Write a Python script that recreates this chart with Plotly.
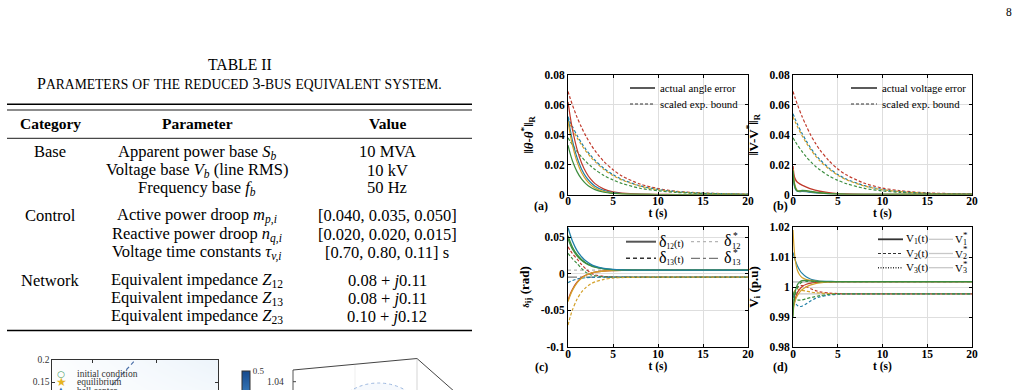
import plotly.graph_objects as go

W, H = 1022, 390
def px(x): return x / W
def py(y): return 1 - y / H

SERIF = "Liberation Serif"
RED, BLUE, GOLD, GREEN = "#c0392b", "#1f7fa6", "#d4a12a", "#3c8d3f"

# ---------------- table data ----------------
table_title = "TABLE II"
table_caption = "Parameters of the reduced 3-bus equivalent system."
table_header = ["Category", "Parameter", "Value"]
table_categories = ["Base", "Control", "Network"]
table_params = [
    ["Apparent power base <i>S</i><sub><i>b</i></sub>",
     "Voltage base <i>V</i><sub><i>b</i></sub> (line RMS)",
     "Frequency base <i>f</i><sub><i>b</i></sub>"],
    ["Active power droop <i>m</i><sub><i>p,i</i></sub>",
     "Reactive power droop <i>n</i><sub><i>q,i</i></sub>",
     "Voltage time constants <i>τ</i><sub><i>v,i</i></sub>"],
    ["Equivalent impedance <i>Z</i><sub>12</sub>",
     "Equivalent impedance <i>Z</i><sub>13</sub>",
     "Equivalent impedance <i>Z</i><sub>23</sub>"],
]
table_values = [
    ["10 MVA", "10 kV", "50 Hz"],
    ["[0.040, 0.035, 0.050]", "[0.020, 0.020, 0.015]", "[0.70, 0.80, 0.11] s"],
    ["0.08 + <i>j</i>0.11", "0.08 + <i>j</i>0.11", "0.10 + <i>j</i>0.12"],
]

# ---------------- panel (a): angle error ----------------
t_a = [0, 0.25, 0.5, 1, 1.5, 2, 2.5, 3, 4, 5, 6, 8, 10, 12, 15, 20]
a_err_red = [0.062, 0.052, 0.0434, 0.0304, 0.0213, 0.0149, 0.0104, 0.0073, 0.0036, 0.0017, 0.0009, 0.0002, 0.0001, 0, 0, 0]
a_err_blue = [0.052, 0.0432, 0.0359, 0.0248, 0.0171, 0.0118, 0.0082, 0.0056, 0.0027, 0.0013, 0.0006, 0.0001, 0, 0, 0, 0]
a_err_gold = [0.049, 0.0401, 0.0329, 0.0220, 0.0147, 0.0099, 0.0066, 0.0044, 0.0020, 0.0009, 0.0004, 0.0001, 0, 0, 0, 0]
a_err_green = [0.033, 0.0272, 0.0224, 0.0153, 0.0104, 0.0071, 0.0048, 0.0033, 0.0015, 0.0007, 0.0003, 0.0001, 0, 0, 0, 0]
a_bnd_red = [0.069, 0.0642, 0.0598, 0.0518, 0.0450, 0.0390, 0.0338, 0.0293, 0.0220, 0.0166, 0.0124, 0.0070, 0.0040, 0.0022, 0.0010, 0.0002]
a_bnd_blue = [0.052, 0.0484, 0.0454, 0.0396, 0.0345, 0.0301, 0.0263, 0.0229, 0.0174, 0.0133, 0.0101, 0.0058, 0.0034, 0.0019, 0.0009, 0.0002]
a_bnd_gold = [0.050, 0.0467, 0.0437, 0.0381, 0.0332, 0.0289, 0.0252, 0.0220, 0.0167, 0.0127, 0.0097, 0.0056, 0.0032, 0.0018, 0.0008, 0.0002]
a_bnd_green = [0.038, 0.0355, 0.0332, 0.0289, 0.0252, 0.0220, 0.0192, 0.0167, 0.0127, 0.0097, 0.0074, 0.0042, 0.0025, 0.0014, 0.0006, 0.0001]

# ---------------- panel (b): voltage error ----------------
t_b_err = [0, 0.1, 0.2, 0.35, 0.5, 0.75, 1, 1.5, 2, 3, 4, 5, 6, 8, 10, 20]
b_err_red = [0.019, 0.0135, 0.011, 0.0092, 0.0082, 0.0071, 0.0063, 0.0050, 0.0038, 0.0022, 0.0012, 0.0006, 0.0003, 0.0001, 0, 0]
b_err_blue = [0.014, 0.008, 0.005, 0.003, 0.0022, 0.0020, 0.0021, 0.0019, 0.0015, 0.0009, 0.0005, 0.0002, 0.0001, 0, 0, 0]
b_err_gold = [0.017, 0.010, 0.0065, 0.0038, 0.0026, 0.0024, 0.0026, 0.0024, 0.0019, 0.0011, 0.0006, 0.0003, 0.0001, 0, 0, 0]
b_err_green = [0.016, 0.009, 0.0055, 0.0032, 0.0022, 0.0023, 0.0027, 0.0025, 0.0020, 0.0012, 0.0006, 0.0003, 0.0001, 0, 0, 0]
t_b_bnd = [0, 0.25, 0.5, 1, 1.5, 2, 2.5, 3, 4, 5, 6, 8, 10, 12, 15, 20]
b_bnd_red = [0.069, 0.0644, 0.0601, 0.0524, 0.0457, 0.0395, 0.0344, 0.0299, 0.0227, 0.0171, 0.0130, 0.0075, 0.0043, 0.0025, 0.0011, 0.0003]
b_bnd_blue = [0.054, 0.0504, 0.0470, 0.0410, 0.0357, 0.0309, 0.0269, 0.0234, 0.0178, 0.0134, 0.0102, 0.0059, 0.0034, 0.0019, 0.0008, 0.0002]
b_bnd_gold = [0.052, 0.0485, 0.0453, 0.0395, 0.0344, 0.0298, 0.0259, 0.0225, 0.0171, 0.0129, 0.0098, 0.0056, 0.0032, 0.0019, 0.0008, 0.0002]
b_bnd_green = [0.038, 0.0355, 0.0331, 0.0289, 0.0251, 0.0218, 0.0189, 0.0165, 0.0125, 0.0095, 0.0072, 0.0041, 0.0024, 0.0014, 0.0006, 0.0001]

# ---------------- panel (c): angle differences ----------------
t_c = [0, 0.25, 0.5, 1, 1.5, 2, 2.5, 3, 4, 5, 6, 8, 10, 15, 20]
c_d12_blue = [0.063, 0.0533, 0.0444, 0.0318, 0.0234, 0.0174, 0.0133, 0.0105, 0.0075, 0.0061, 0.0055, 0.0051, 0.005, 0.005, 0.005]
c_d12_green = [0.052, 0.0435, 0.0364, 0.0264, 0.0197, 0.0149, 0.0117, 0.0094, 0.0069, 0.0058, 0.0053, 0.0051, 0.005, 0.005, 0.005]
c_d12_green2 = [0.048, 0.0401, 0.0337, 0.0246, 0.0184, 0.0141, 0.0111, 0.0090, 0.0067, 0.0057, 0.0053, 0.0051, 0.005, 0.005, 0.005]
c_d12_gold = [-0.038, -0.0293, -0.0223, -0.0123, -0.006, -0.002, 0.0006, 0.0022, 0.0039, 0.0045, 0.0048, 0.005, 0.005, 0.005, 0.005]
c_d12_red = [-0.036, -0.0277, -0.0210, -0.0115, -0.0055, -0.0016, 0.0007, 0.0022, 0.0039, 0.0045, 0.0048, 0.005, 0.005, 0.005, 0.005]
c_d13_red = [0.037, 0.032, 0.0275, 0.0205, 0.0128, 0.0065, 0.0015, -0.0015, -0.0035, -0.0042, -0.0044, -0.0045, -0.0045, -0.0045, -0.0045]
c_d13_green = [0.028, 0.024, 0.0205, 0.0143, 0.0075, 0.002, -0.0012, -0.0028, -0.0040, -0.0044, -0.0045, -0.0045, -0.0045, -0.0045, -0.0045]
c_d13_blue = [-0.012, -0.0105, -0.0092, -0.0072, -0.0060, -0.0053, -0.0049, -0.0047, -0.0045, -0.0045, -0.0045, -0.0045, -0.0045, -0.0045, -0.0045]
c_d13_gold = [-0.070, -0.0586, -0.0491, -0.0348, -0.0250, -0.0185, -0.0140, -0.0110, -0.0075, -0.0059, -0.0051, -0.0047, -0.0045, -0.0045, -0.0045]
delta12_star = 0.005
delta13_star = -0.0045

# ---------------- panel (d): voltages ----------------
t_d = [0, 0.1, 0.25, 0.5, 0.75, 1, 1.5, 2, 2.5, 3, 4, 5, 6, 8, 10, 20]
d_v1_blue = [1.0115, 1.0104, 1.0089, 1.0070, 1.0056, 1.0046, 1.0033, 1.0026, 1.0022, 1.0020, 1.0019, 1.0018, 1.0018, 1.0018, 1.0018, 1.0018]
d_v1_gold_hi = [1.019, 1.014, 1.009, 1.0055, 1.0040, 1.0032, 1.0025, 1.0022, 1.0020, 1.0019, 1.0018, 1.0018, 1.0018, 1.0018, 1.0018, 1.0018]
d_v1_gold_lo = [0.9905, 0.9935, 0.9955, 0.9972, 0.9983, 0.9991, 1.0001, 1.0007, 1.0011, 1.0014, 1.0017, 1.0018, 1.0018, 1.0018, 1.0018, 1.0018]
d_v1_red = [0.9925, 0.9945, 0.9962, 0.9982, 0.9993, 1.0001, 1.0009, 1.0013, 1.0015, 1.0016, 1.0017, 1.0018, 1.0018, 1.0018, 1.0018, 1.0018]
d_v1_green = [0.9900, 0.9955, 0.9985, 1.0008, 1.0017, 1.0021, 1.0022, 1.0020, 1.0019, 1.0018, 1.0018, 1.0018, 1.0018, 1.0018, 1.0018, 1.0018]
d_v2_red = [0.9965, 0.9975, 0.9988, 0.9999, 1.0004, 1.0005, 1.0001, 0.9994, 0.9988, 0.9984, 0.9980, 0.9978, 0.9977, 0.9977, 0.9977, 0.9977]
d_v2_gold = [0.9965, 0.9978, 0.9990, 0.9993, 0.9991, 0.9989, 0.9986, 0.9983, 0.9981, 0.9980, 0.9978, 0.9977, 0.9977, 0.9977, 0.9977, 0.9977]
d_v2_blue = [0.9975, 0.9962, 0.9948, 0.9938, 0.9935, 0.9936, 0.9944, 0.9954, 0.9962, 0.9967, 0.9973, 0.9976, 0.9977, 0.9977, 0.9977, 0.9977]
d_v2_green = [0.9985, 0.9972, 0.9962, 0.9957, 0.9956, 0.9957, 0.9961, 0.9965, 0.9968, 0.9971, 0.9975, 0.9977, 0.9977, 0.9977, 0.9977, 0.9977]
d_v3_green = [0.9935, 0.9952, 0.9975, 0.9998, 1.0010, 1.0016, 1.0019, 1.0019, 1.0018, 1.0018, 1.0018, 1.0018, 1.0018, 1.0018, 1.0018, 1.0018]
V_star = [1.0018, 0.9977, 1.0016]

# ---------------- bottom-left partial plot ----------------
grad_x = [0, 0.5, 1]
grad_y = [0.132, 0.166, 0.2]
grad_z = [[0.004, 0.02, 0.035], [0.006, 0.025, 0.045], [0.008, 0.03, 0.055]]
boundary_x = [0.36, 0.50]
boundary_y = [0.143, 0.2]

fig = go.Figure()

def add(xa, ya, x, y, color, dash="solid", width=1.2):
    fig.add_trace(go.Scatter(x=x, y=y, mode="lines", xaxis=xa, yaxis=ya,
                             line=dict(color=color, dash=dash, width=width, shape="spline", smoothing=0.8),
                             showlegend=False, hoverinfo="skip"))

DASH = "3px,2px"
# (a)
for y, c in [(a_bnd_red, RED), (a_bnd_blue, BLUE), (a_bnd_gold, GOLD), (a_bnd_green, GREEN)]:
    add("x", "y", t_a, y, c, DASH)
for y, c in [(a_err_red, RED), (a_err_blue, BLUE), (a_err_gold, GOLD), (a_err_green, GREEN)]:
    add("x", "y", t_a, y, c)
# (b)
for y, c in [(b_bnd_red, RED), (b_bnd_blue, BLUE), (b_bnd_gold, GOLD), (b_bnd_green, GREEN)]:
    add("x2", "y2", t_b_bnd, y, c, DASH)
for y, c in [(b_err_red, RED), (b_err_blue, BLUE), (b_err_gold, GOLD), (b_err_green, GREEN)]:
    add("x2", "y2", t_b_err, y, c, width=1.4)
# (c)
add("x3", "y3", [0, 20], [delta12_star, delta12_star], "#b5b5b5", "dot", 1.2)
add("x3", "y3", [0, 20], [delta13_star, delta13_star], "#555555", "dashdot", 1.0)
for y, c in [(c_d13_red, RED), (c_d13_green, GREEN), (c_d13_blue, BLUE), (c_d13_gold, GOLD)]:
    add("x3", "y3", t_c, y, c, DASH)
for y, c in [(c_d12_red, RED), (c_d12_gold, GOLD), (c_d12_green2, GREEN), (c_d12_green, GREEN), (c_d12_blue, BLUE)]:
    add("x3", "y3", t_c, y, c, width=1.3)
# (d)
for v in V_star:
    add("x4", "y4", [0, 20], [v, v], "#c8c8c8", "solid", 1.2)
for y, c in [(d_v2_red, RED), (d_v2_gold, GOLD), (d_v2_blue, BLUE), (d_v2_green, GREEN)]:
    add("x4", "y4", t_d, y, c, DASH)
for y, c in [(d_v1_red, RED), (d_v1_gold_lo, GOLD), (d_v1_blue, BLUE), (d_v1_gold_hi, GOLD), (d_v1_green, GREEN)]:
    add("x4", "y4", t_d, y, c, width=1.2)
add("x4", "y4", t_d, d_v3_green, GREEN, "dot", 1.4)

# bottom-left partial plot
fig.add_trace(go.Heatmap(x=grad_x, y=grad_y, z=grad_z, xaxis="x5", yaxis="y5", zmin=0, zmax=0.5,
                         zsmooth="best", hoverinfo="skip",
                         colorscale=[[0, "#ffffff"], [0.2, "#deebf7"], [0.5, "#9ecae1"], [0.75, "#3a7dbd"], [1, "#15498c"]],
                         colorbar=dict(x=px(231.5), xanchor="left", y=py(361), yanchor="top", len=0.3,
                                       thickness=8, outlinewidth=1, outlinecolor="#333",
                                       tickvals=[0.5], ticktext=["0.5"], ticks="",
                                       tickfont=dict(family=SERIF, size=9, color="#333"))))
fig.add_trace(go.Scatter(x=boundary_x, y=boundary_y, mode="lines", xaxis="x5", yaxis="y5",
                         line=dict(color="#4a6fa8", dash="4px,3px", width=1.2), showlegend=False, hoverinfo="skip"))

# ---------------- axes ----------------
tickfont = dict(family=SERIF, size=11.5, color="black", weight="bold")
def xax(domain, anchor):
    return dict(domain=domain, anchor=anchor, range=[0, 20], tickvals=[0, 5, 10, 15, 20],
                ticktext=["0", "5", "10", "15", "20"], showgrid=True, gridcolor="#dedede", gridwidth=1,
                showline=True, linecolor="black", linewidth=1, mirror="ticks", ticks="inside",
                ticklen=3, tickcolor="black", tickfont=tickfont, zeroline=False, ticklabelstandoff=-4,
                title=dict(text="<b>t (s)</b>", font=dict(family=SERIF, size=11.5, color="black"), standoff=0))
def yax(domain, anchor, rng, vals, texts, title):
    return dict(domain=domain, anchor=anchor, range=rng, tickvals=vals, ticktext=texts,
                showgrid=True, gridcolor="#dedede", gridwidth=1,
                showline=True, linecolor="black", linewidth=1, mirror="ticks", ticks="inside",
                ticklen=3, tickcolor="black", tickfont=tickfont, zeroline=False,
                title=dict(text=title, font=dict(family=SERIF, size=13, color="black"), standoff=8))

xa_dom = [px(568), px(748)]
xb_dom = [px(793), px(972)]
ytop_dom = [py(194.5), py(75)]
ybot_dom = [py(347), py(227)]
err_vals = [0, 0.02, 0.04, 0.06, 0.08]
err_txt = ["0", "0.02", "0.04", "0.06", "0.08"]

fig.update_layout(
    xaxis=xax(xa_dom, "y"),
    yaxis=yax(ytop_dom, "x", [0, 0.08], err_vals, err_txt, "<b>‖<i>θ</i>-<i>θ</i><sup>*</sup>‖<sub>R</sub></b>"),
    xaxis2=xax(xb_dom, "y2"),
    yaxis2=yax(ytop_dom, "x2", [0, 0.08], err_vals, err_txt, "<b>‖V-V<sup>*</sup>‖<sub>R</sub></b>"),
    xaxis3=xax(xa_dom, "y3"),
    yaxis3=yax(ybot_dom, "x3", [-0.1, 0.064], [-0.1, -0.05, 0, 0.05], ["-0.1", "-0.05", "0", "0.05"],
               "<b><span style='font-size:9px'>δ</span><sub>ij</sub> (rad)</b>"),
    xaxis4=xax(xb_dom, "y4"),
    yaxis4=yax(ybot_dom, "x4", [0.98, 1.02], [0.98, 0.99, 1.0, 1.01, 1.02], ["0.98", "0.99", "1", "1.01", "1.02"],
               "<b>V<sub>i</sub> (p.u)</b>"),
    xaxis5=dict(domain=[px(52.3), px(218.3)], anchor="y5", range=[0, 1], side="top", showline=True,
                linecolor="#333", linewidth=1, showgrid=False, zeroline=False, showticklabels=False,
                ticks="inside", tickvals=[0.245, 0.63], ticklen=3, tickcolor="#333"),
    yaxis5=dict(domain=[0, py(360)], anchor="x5", range=[0.132, 0.2], showline=True, mirror="ticks",
                linecolor="#333", linewidth=1, showgrid=False, zeroline=False, ticks="inside", ticklen=3,
                tickvals=[0.15, 0.2], ticktext=["0.15", "0.2"], tickcolor="#333",
                tickfont=dict(family=SERIF, size=9.5, color="#333")),
    width=W, height=H, margin=dict(l=0, r=0, t=0, b=0, autoexpand=False),
    paper_bgcolor="white", plot_bgcolor="white", showlegend=False,
)

ann = []
shapes = []
def text(x, y, s, size=15, xanchor="center", color="black", family=SERIF):
    ann.append(dict(x=px(x), y=py(y), xref="paper", yref="paper", text=s, showarrow=False,
                    xanchor=xanchor, yanchor="middle", font=dict(family=family, size=size, color=color)))
def hline(x0, x1, y, w=1, color="black", dash="solid"):
    shapes.append(dict(type="line", xref="paper", yref="paper", x0=px(x0), x1=px(x1), y0=py(y), y1=py(y),
                       line=dict(color=color, width=w, dash=dash)))
def seg(x0, y0, x1, y1, w=1, color="#444"):
    shapes.append(dict(type="line", xref="paper", yref="paper", x0=px(x0), x1=px(x1), y0=py(y0), y1=py(y1),
                       line=dict(color=color, width=w)))

# page number
text(1009, 12, "8", size=11.5)

# table
BODY = 16.5
text(240, 65, table_title, size=15.7)
cap = ""
for ch in table_caption:
    if ch.isupper() or ch.isdigit():
        cap += f"<span style='font-size:16px'>{ch}</span>"
    elif ch == " ":
        cap += " "
    else:
        cap += f"<span style='font-size:13.6px'>{ch.upper()}</span>"
text(239, 83.5, cap, size=16)
hline(7, 472, 104.3, 1.4)
hline(7, 472, 110.0, 0.9)
hdr_x = [50, 197, 387]
for hx, h in zip(hdr_x, table_header):
    text(hx, 123.5, f"<b>{h}</b>", size=15.5)
hline(7, 472, 138.3, 0.9)
row_y = [[151.7, 170, 187.7], [215.7, 234, 252.3], [280, 298.3, 316]]
for cat, params, vals, ys in zip(table_categories, table_params, table_values, row_y):
    text(50, ys[0], cat, size=BODY)
    for p, v, yy in zip(params, vals, ys):
        text(197, yy, p, size=BODY)
        text(387, yy, v, size=BODY)
hline(7, 472, 330.5, 1.6)

# panel labels
for lx, ly, s in [(541, 205.5, "(a)"), (780, 205.5, "(b)"), (541, 366.5, "(c)"), (780, 366.5, "(d)")]:
    text(lx, ly, f"<b>{s}</b>", size=12)

# legend (a) and (b)
for x0, x1, label in [(630, 655, "actual angle error"), (851, 877, "actual voltage error")]:
    hline(x0, x1, 88, 1.6, "#333")
    text(x1 + 3, 88, label, size=10.8, xanchor="left")
    hline(x0, x1, 104, 1.2, "#333", "3px,2px")
    text(x1 + 3, 104, "scaled exp. bound", size=10.8, xanchor="left")

# legend (c)
hline(626, 656, 241.7, 2.0, "#555")
text(657, 241.7, "<span style='font-size:16px'>δ</span><sub>12</sub>(t)", size=10.5, xanchor="left")
hline(691, 721, 241.7, 1.3, "#b5b5b5", "dot")
text(722, 240.5, "<span style='font-size:16px'>δ</span>", size=10, xanchor="left")
text(730.5, 236, "*", size=9.5, xanchor="left")
text(730, 245.5, "12", size=8.5, xanchor="left")
hline(626, 656, 258.3, 1.4, "#333", "4px,3px")
text(657, 258.3, "<span style='font-size:16px'>δ</span><sub>13</sub>(t)", size=10.5, xanchor="left")
hline(691, 721, 258.3, 1.0, "#555", "dashdot")
text(722, 257.1, "<span style='font-size:16px'>δ</span>", size=10, xanchor="left")
text(730.5, 252.6, "*", size=9.5, xanchor="left")
text(730, 262.1, "13", size=8.5, xanchor="left")

# legend (d)
leg_d = [(239.3, "solid", 1.8), (253.5, "3px,2px", 1.2), (267.7, "1px,1.5px", 1.4)]
for i, (ly, dsh, lw) in enumerate(leg_d):
    hline(878, 903, ly, lw, "#333", dsh)
    text(904, ly, f"V<sub>{i+1}</sub>(t)", size=11, xanchor="left")
    hline(929, 953, ly, 1.3, "#c8c8c8")
    text(953, ly, "V", size=11, xanchor="left")
    text(961, ly - 4, "*", size=9, xanchor="left")
    text(961, ly + 3, f"{i+1}", size=8, xanchor="left")

# bottom-left legend symbols
text(61, 373.7, "○", size=9, color="#3c9a5f", family="DejaVu Sans")
text(61, 382, "★", size=12, color="#e6b422", family="DejaVu Sans")
text(61, 390.5, "▲", size=10, color="#2f6db5", family="DejaVu Sans")
text(75, 373.7, "initial condition", size=9.5, xanchor="left", color="#333")
text(75, 382, "equilibrium", size=9.5, xanchor="left", color="#333")
text(75, 390.5, "ball center", size=9.5, xanchor="left", color="#333")

# bottom-right 3D box hints
text(286, 381.7, "1.04", size=9.5, xanchor="right", color="#333")
seg(293, 370, 417, 358.5, 1, "#444")
seg(417, 358.5, 455, 392, 1, "#444")
seg(293, 370, 293, 392, 1, "#555")
seg(417, 358.5, 417, 392, 0.6, "#bbbbbb")
seg(355, 364.8, 355, 392, 0.5, "#dddddd")
seg(293, 381.7, 296, 381.7, 1, "#444")
shapes.append(dict(type="circle", xref="paper", yref="paper", x0=px(327), x1=px(430), y0=py(383), y1=py(480),
                   line=dict(color="#9db8e0", width=1, dash="dot"), fillcolor="rgba(180,205,240,0.12)"))

fig.update_layout(annotations=ann, shapes=shapes)
fig.write_html("out.html")
